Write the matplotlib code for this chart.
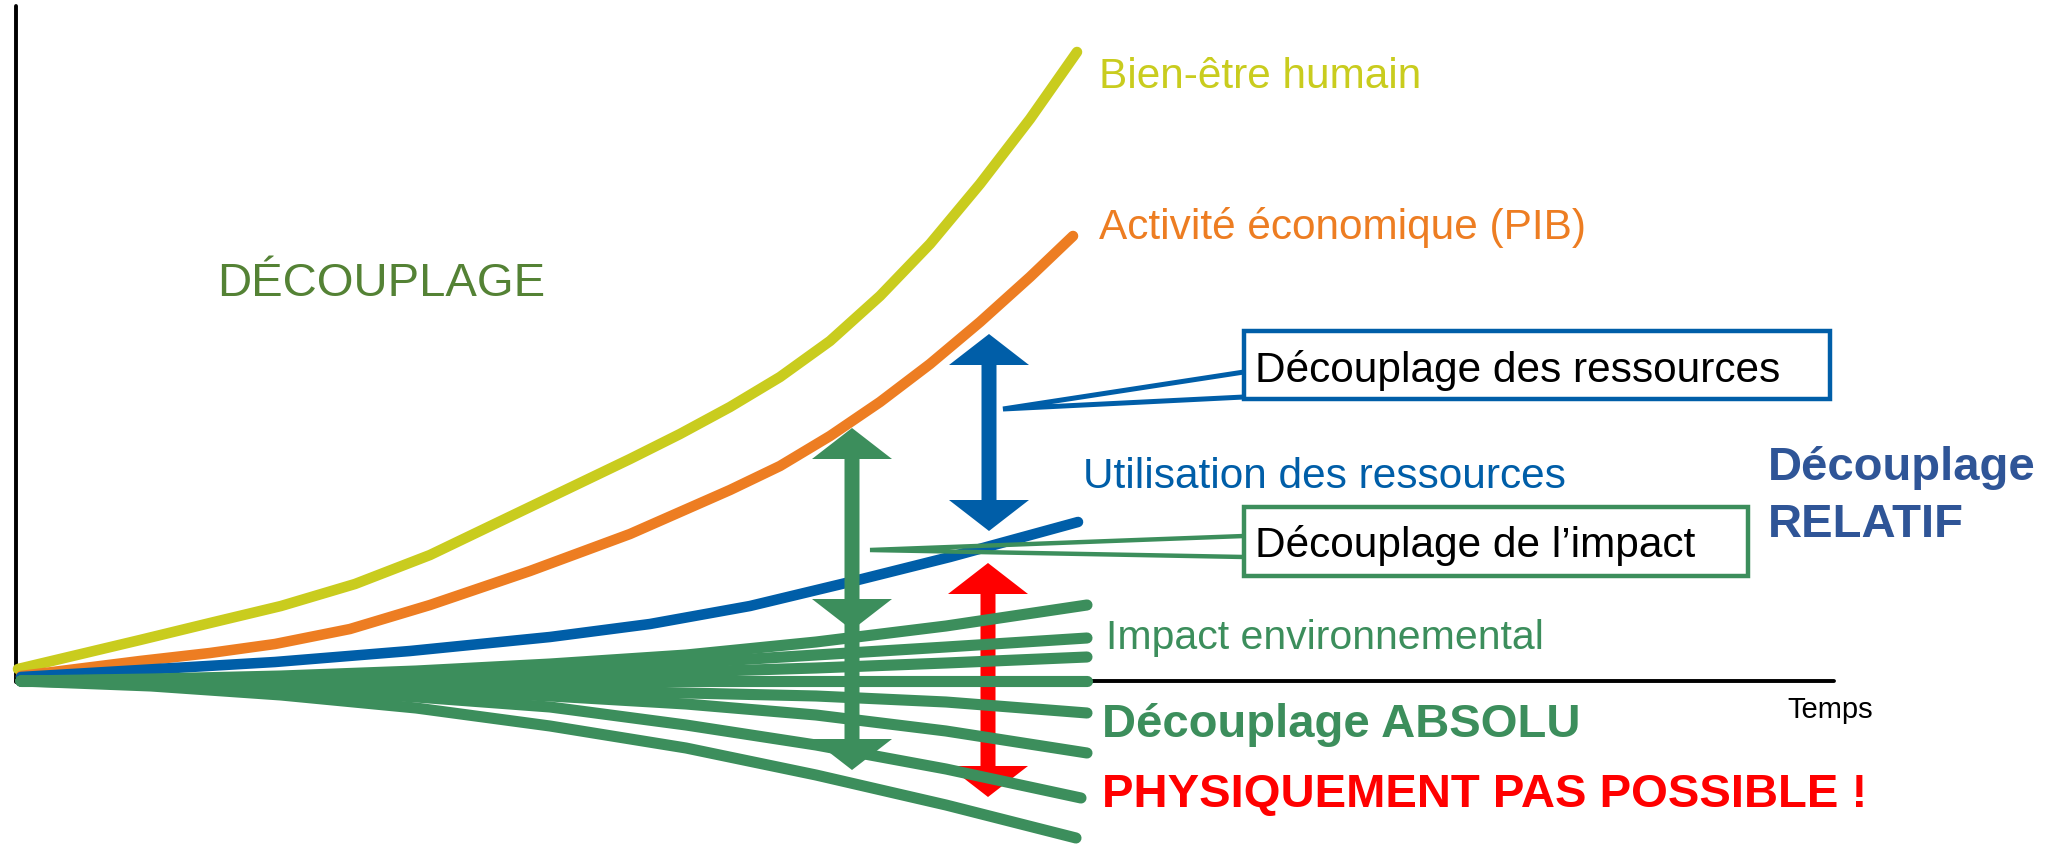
import matplotlib
matplotlib.use('Agg')
import matplotlib.pyplot as plt
from matplotlib.patches import Polygon, Rectangle

plt.rcParams['font.family'] = ['Liberation Sans', 'DejaVu Sans']

# colours
YELLOW = '#C9CC1E'
ORANGE = '#ED7D22'
BLUE = '#005EA8'
GREEN = '#3C8E5C'
RED = '#FF0000'

# --- data (time, level) ---
t_bien = [2, 124, 194, 265, 339, 414, 514, 614, 664, 714, 764, 814, 864, 914, 964, 1014, 1061]
y_bien = [12, 41, 58, 75, 97, 126, 174, 222, 247, 274, 304, 340, 385, 437, 497, 562, 629]

t_pib = [5, 124, 194, 259, 334, 414, 514, 614, 664, 714, 764, 814, 864, 914, 964, 1014, 1057]
y_pib = [5, 20, 28, 37, 52, 76, 110, 147, 169, 191, 215, 245, 279, 317, 359, 404, 445]

t_res = [5, 124, 259, 394, 534, 634, 734, 834, 934, 1062]
y_res = [4, 11, 19, 30, 44, 57, 75, 99, 124, 159]

# impact environnemental: fan of scenarios
t_imp = [5, 135, 265, 400, 534, 670, 800, 930]
t_imp_end = [1071, 1071, 1071, 1071, 1071, 1071, 1065, 1060]
impact = [
    [0, 2, 5, 10, 17, 26, 39, 55, 76],
    [0, 1, 3, 6, 11, 18, 26, 34, 43],
    [0, 1, 2, 4, 6, 9, 13, 18, 24],
    [0, 0, 0, 0, 0, 0, 0, 0, 0],
    [0, -1, -3, -6, -9, -12, -15, -21, -32],
    [0, -2, -5, -9, -15, -23, -34, -50, -72],
    [0, -3, -8, -16, -26, -44, -64, -88, -117],
    [0, -5, -14, -27, -45, -67, -94, -124, -157],
]

# arrows: (time, low, high, colour, heads)
arrows = [
    (973, 150, 347, BLUE, 'both'),
    (972, -116, 118, RED, 'both'),
    (836, 51, 253, GREEN, 'both'),
    (836, -89, 60, GREEN, 'down'),
]


def arrow_poly(x, y0, y1, heads, w=7.5, hw=40, hl=31):
    # vertical arrow outline from y0 (bottom) to y1 (top)
    pts = []
    if heads in ('both', 'up'):
        pts += [(x + w, y1 - hl), (x + hw, y1 - hl), (x, y1), (x - hw, y1 - hl), (x - w, y1 - hl)]
    else:
        pts += [(x + w, y1), (x - w, y1)]
    if heads in ('both', 'down'):
        pts += [(x - w, y0 + hl), (x - hw, y0 + hl), (x, y0), (x + hw, y0 + hl), (x + w, y0 + hl)]
    else:
        pts += [(x - w, y0), (x + w, y0)]
    return pts


fig = plt.figure(figsize=(20.69, 8.45), dpi=100)
ax = fig.add_axes([0, 0, 1, 1])
ax.set_xlim(-16, 2053)
ax.set_ylim(-163, 682)
ax.axis('off')

# axes drawn by hand
ax.plot([0, 0], [-1, 675], color='black', lw=2.8, zorder=1, solid_capstyle='round')
ax.plot([0, 1818], [0, 0], color='black', lw=2.8, zorder=1, solid_capstyle='round')

lw = 7.6
style = dict(solid_capstyle='round', solid_joinstyle='round')
ax.plot(t_bien, y_bien, color=YELLOW, lw=lw, zorder=2, **style)
ax.plot(t_pib, y_pib, color=ORANGE, lw=lw, zorder=2, **style)
ax.plot(t_res, y_res, color=BLUE, lw=lw, zorder=2, **style)

# red arrow under the green fan, the rest on top
for x, lo, hi, c, heads in arrows:
    z = 3 if c == RED else 5
    ax.add_patch(Polygon(arrow_poly(x, lo, hi, heads), closed=True, facecolor=c,
                         edgecolor='none', zorder=z))

for vals, te in zip(impact, t_imp_end):
    ax.plot(t_imp + [te], vals, color=GREEN, lw=8, zorder=4, **style)

# callout wedges
ax.plot([1228, 987, 1228], [309, 272, 284], color=BLUE, lw=3.6,
        solid_capstyle='round', solid_joinstyle='miter', zorder=6)
ax.plot([1228, 854, 1228], [145, 131, 124], color=GREEN, lw=3.2,
        solid_capstyle='round', solid_joinstyle='miter', zorder=6)

# boxes
ax.add_patch(Rectangle((1228, 282), 586, 68, facecolor='white', edgecolor=BLUE, lw=3.2, zorder=7))
ax.add_patch(Rectangle((1228, 105), 504, 69, facecolor='white', edgecolor=GREEN, lw=3.2, zorder=7))

fs = 30.5
ax.text(1083, 594, 'Bien-être humain', color=YELLOW, fontsize=fs, va='baseline', zorder=8)
ax.text(1083, 443, 'Activité économique (PIB)', color=ORANGE, fontsize=fs, va='baseline', zorder=8)
ax.text(201, 386, 'DÉCOUPLAGE', color='#548235', fontsize=34, va='baseline', zorder=8)
ax.text(1239, 300, 'Découplage des ressources', color='black', fontsize=fs, va='baseline', zorder=8)
ax.text(1067, 194, 'Utilisation des ressources', color=BLUE, fontsize=fs, va='baseline', zorder=8)
ax.text(1239, 125, 'Découplage de l\u2019impact', color='black', fontsize=fs, va='baseline', zorder=8)
ax.text(1752, 202, 'Découplage', color='#2F5597', fontsize=34, fontweight='bold', va='baseline', zorder=8)
ax.text(1752, 145, 'RELATIF', color='#2F5597', fontsize=34, fontweight='bold', va='baseline', zorder=8)
ax.text(1090, 33, 'Impact environnemental', color=GREEN, fontsize=29.5, va='baseline', zorder=8)
ax.text(1086, -55, 'Découplage ABSOLU', color=GREEN, fontsize=34, fontweight='bold', va='baseline', zorder=8)
ax.text(1086, -125, 'PHYSIQUEMENT PAS POSSIBLE !', color=RED, fontsize=34, fontweight='bold',
        va='baseline', zorder=8)
ax.text(1771, -36, 'Temps', color='black', fontsize=21, va='baseline', zorder=8)

fig.savefig('out.png', dpi=100, facecolor='white')
